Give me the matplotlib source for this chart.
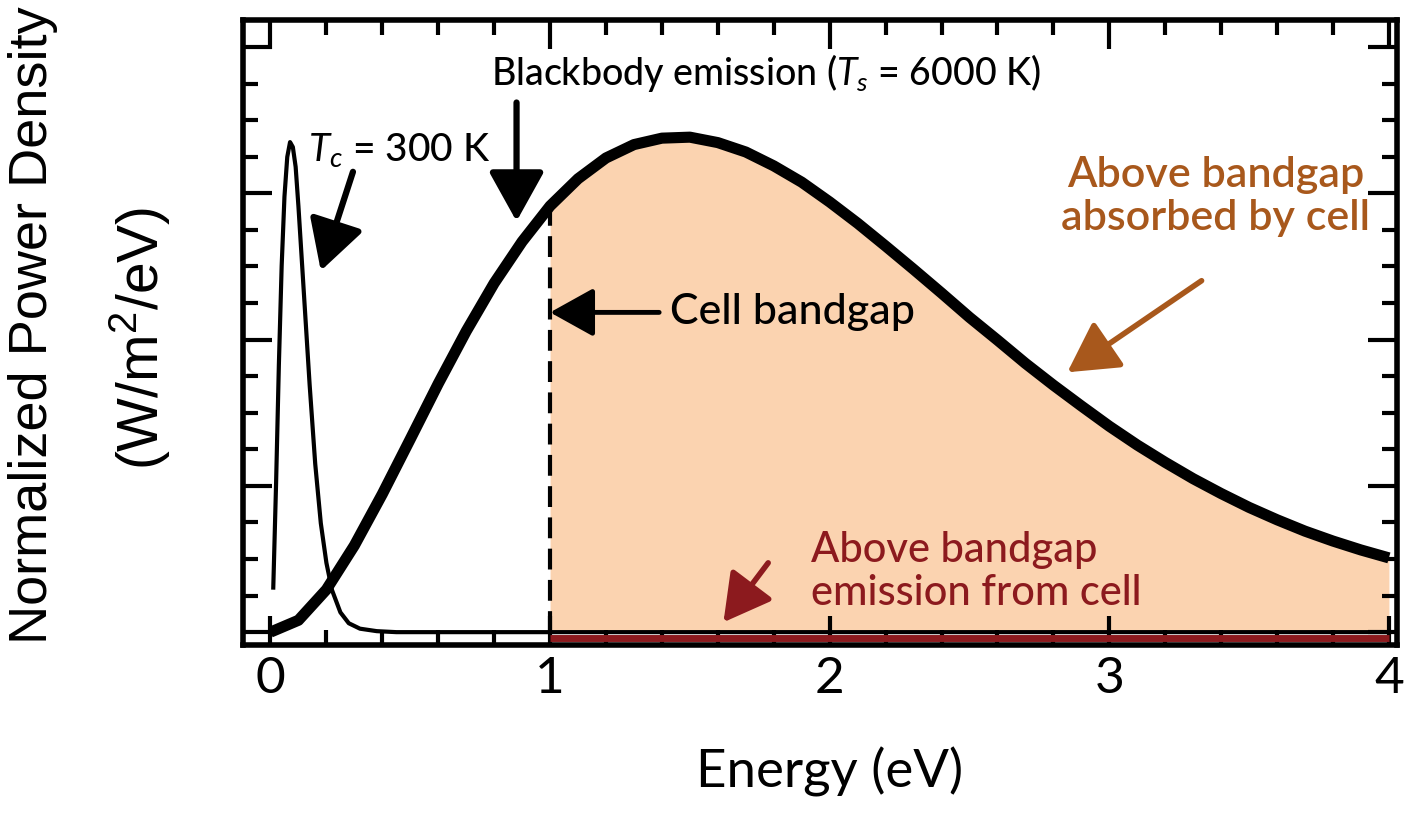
import matplotlib
matplotlib.use('Agg')
import matplotlib.pyplot as plt
from matplotlib.ticker import MultipleLocator, NullFormatter

# 6000 K blackbody (normalized)
energy = [0.0, 0.1, 0.2, 0.3, 0.4, 0.5, 0.6, 0.7, 0.8, 0.9,
          1.0, 1.1, 1.2, 1.3, 1.4, 1.5, 1.6, 1.7, 1.8, 1.9,
          2.0, 2.1, 2.2, 2.3, 2.4, 2.5, 2.6, 2.7, 2.8, 2.9,
          3.0, 3.1, 3.2, 3.3, 3.4, 3.5, 3.6, 3.7, 3.8, 3.9, 4.0]
sun_power = [0.0, 0.024, 0.086, 0.175, 0.279, 0.390, 0.502, 0.608, 0.705, 0.789,
             0.861, 0.916, 0.958, 0.985, 0.998, 1.000, 0.989, 0.970, 0.942, 0.909,
             0.869, 0.826, 0.780, 0.733, 0.685, 0.636, 0.590, 0.543, 0.499, 0.457,
             0.416, 0.378, 0.343, 0.310, 0.280, 0.252, 0.227, 0.204, 0.184, 0.166, 0.150]

# 300 K cell emission (normalized)
cell_energy = [0.01, 0.02, 0.03, 0.04, 0.05, 0.06, 0.07, 0.08, 0.09, 0.10,
               0.12, 0.14, 0.16, 0.18, 0.20, 0.22, 0.25, 0.28, 0.32, 0.38, 0.45, 4.0]
cell_power = [0.09, 0.30, 0.54, 0.74, 0.88, 0.96, 0.99, 0.98, 0.94, 0.86,
              0.68, 0.50, 0.34, 0.22, 0.14, 0.085, 0.04, 0.018, 0.007, 0.002, 0.0, 0.0]

bandgap = 1.0
emission_energy = [1.0, 4.0]
emission_power = [-0.012, -0.012]

plt.rcParams['mathtext.fontset'] = 'custom'
plt.rcParams['mathtext.rm'] = 'Lato'
plt.rcParams['mathtext.it'] = 'Lato:italic'
plt.rcParams['font.family'] = ['Lato', 'DejaVu Sans']

peach = '#fbd3b0'
brown = '#a8581c'
darkred = '#8c1a1e'

fig = plt.figure(figsize=(14.1, 8.14), dpi=100)
ax = fig.add_axes([0.172, 0.2076, 0.819, 0.7674])

above = [e >= bandgap for e in energy]
ax.fill_between(energy, 0, sun_power, where=above, color=peach, lw=0, zorder=1)
ax.plot(emission_energy, emission_power, color=darkred, lw=5, solid_capstyle='butt', zorder=2)
ax.plot(cell_energy, cell_power, color='black', lw=3, zorder=3)
ax.vlines(bandgap, 0, sun_power[energy.index(bandgap)], colors='black', lw=3,
          linestyles=(0, (5, 2.5)), zorder=3)
ax.plot(energy, sun_power, color='black', lw=8, solid_capstyle='butt',
        solid_joinstyle='round', zorder=4)

ax.set_xlim(-0.1, 4.03)
ax.set_ylim(-0.026, 1.236)

ax.xaxis.set_major_locator(MultipleLocator(1))
ax.xaxis.set_minor_locator(MultipleLocator(0.2))
ax.yaxis.set_major_locator(MultipleLocator(0.2955))
ax.yaxis.set_minor_locator(MultipleLocator(0.2955 / 4))
ax.yaxis.set_major_formatter(NullFormatter())
ax.tick_params(which='both', direction='in', top=True, right=True, width=3, color='black')
ax.tick_params(which='major', length=21, labelsize=37, pad=8)
ax.tick_params(which='minor', length=10.5)
for s in ax.spines.values():
    s.set_linewidth(4)
    s.set_zorder(5)

head = '-|>,head_length=0.9,head_width=0.5'

ax.text(0.79, 1.13, 'Blackbody emission ($T_s$ = 6000 K)', fontsize=27,
        fontweight='medium', ha='left', va='center')
ax.annotate('', xy=(0.88, 0.83), xytext=(0.88, 1.07),
            arrowprops=dict(arrowstyle=head, lw=4.5, color='black', mutation_scale=34,
                            shrinkA=0, shrinkB=0))

ax.text(0.135, 0.975, '$T_c$ = 300 K', fontsize=28, fontweight='medium',
        ha='left', va='center')
ax.annotate('', xy=(0.18, 0.73), xytext=(0.295, 0.93),
            arrowprops=dict(arrowstyle=head, lw=4.5, color='black', mutation_scale=34,
                            shrinkA=0, shrinkB=0))

ax.text(1.43, 0.646, 'Cell bandgap', fontsize=31, fontweight='medium',
        ha='left', va='center')
ax.annotate('', xy=(1.0, 0.646), xytext=(1.39, 0.646),
            arrowprops=dict(arrowstyle=head, lw=3.5, color='black', mutation_scale=30,
                            shrinkA=0, shrinkB=0))

ax.text(3.38, 0.88, 'Above bandgap\nabsorbed by cell', fontsize=31, color=brown,
        fontweight='semibold', ha='center', va='center', linespacing=1.15)
ax.annotate('', xy=(2.85, 0.525), xytext=(3.33, 0.71),
            arrowprops=dict(arrowstyle=head, lw=4, color=brown, mutation_scale=34,
                            shrinkA=0, shrinkB=0))

ax.text(1.932, 0.123, 'Above bandgap\nemission from cell', fontsize=30, color=darkred,
        fontweight='medium', ha='left', va='center', linespacing=1.15)
ax.annotate('', xy=(1.62, 0.02), xytext=(1.78, 0.14),
            arrowprops=dict(arrowstyle=head, lw=4, color=darkred, mutation_scale=32,
                            shrinkA=0, shrinkB=0))

fig.text(830 / 1410, 1 - 772 / 814, 'Energy (eV)', fontsize=38, ha='center', va='center')
fig.text(33 / 1410, 1 - 325 / 814, 'Normalized Power Density', fontsize=39, rotation=90,
         ha='center', va='center', family=['Liberation Sans', 'DejaVu Sans'])
fig.text(140 / 1410, 1 - 338 / 814, '(W/m$^\\mathregular{2}$/eV)', fontsize=41, rotation=90,
         ha='center', va='center', family=['Liberation Sans', 'DejaVu Sans'])

fig.savefig('out.png', dpi=100)
